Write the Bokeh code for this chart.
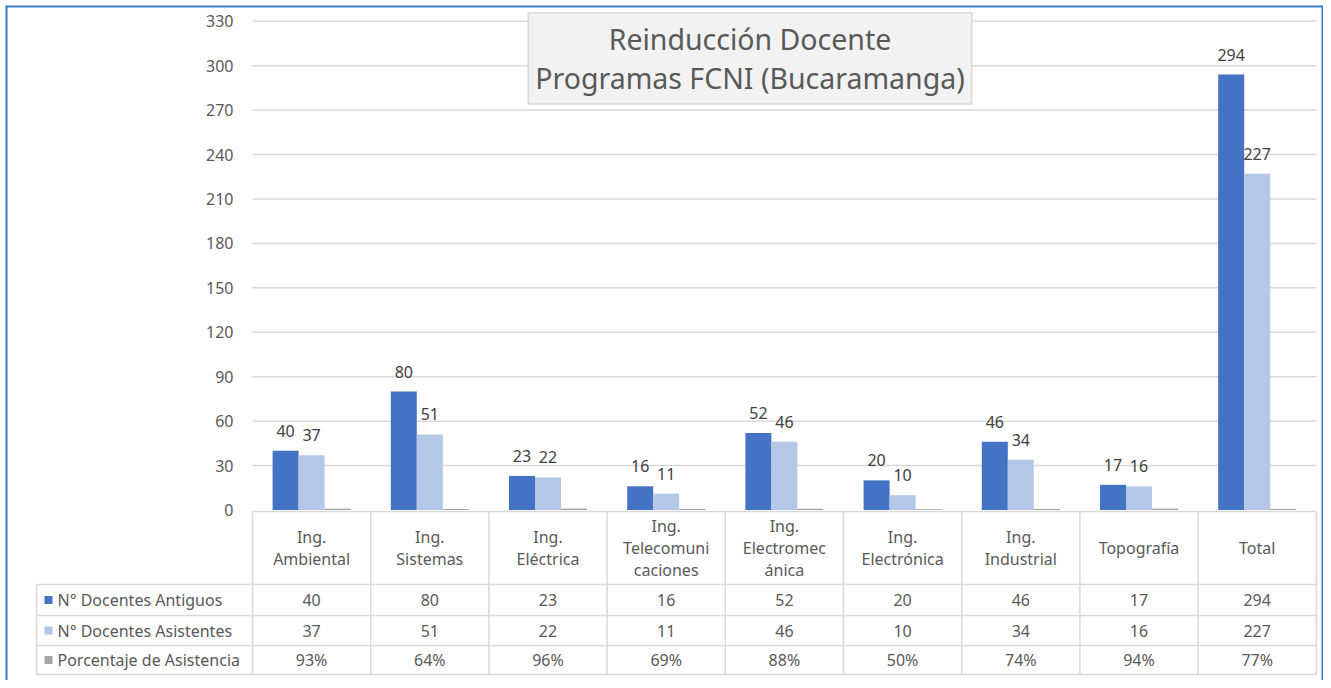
import numpy as np
from bokeh.plotting import figure
from bokeh.models import Range1d, LinearAxis, FixedTicker, Label
from bokeh.core.properties import value
from bokeh.embed import file_html
from bokeh.resources import INLINE

# ---------------- data ----------------
categories = ["Ing.\nAmbiental", "Ing.\nSistemas", "Ing.\nEléctrica",
              "Ing.\nTelecomuni\ncaciones", "Ing.\nElectromec\nánica",
              "Ing.\nElectrónica", "Ing.\nIndustrial", "Topografía", "Total"]
antiguos = [40, 80, 23, 16, 52, 20, 46, 17, 294]
asistentes = [37, 51, 22, 11, 46, 10, 34, 16, 227]
porcentaje = [0.93, 0.64, 0.96, 0.69, 0.88, 0.50, 0.74, 0.94, 0.77]
porcentaje_labels = ["93%", "64%", "96%", "69%", "88%", "50%", "74%", "94%", "77%"]
series_names = ["N° Docentes Antiguos", "N° Docentes Asistentes", "Porcentaje de Asistencia"]
series_colors = ["#4472C4", "#B4C7E7", "#A5A5A5"]
y_ticks = list(range(0, 331, 30))
title_lines = ["Reinducción Docente", "Programas FCNI (Bucaramanga)"]

# ---------------- layout (pixel geometry -> data) ----------------
W, H = 1323, 680
FL, FT = 5, 5                 # frame left / top offsets
X0, COLW = 252.0, 118.2       # left of first category column, column width
Y0, PXU = 509.5, 1.4812       # baseline y and pixels per unit

def dx(ix):
    return (ix - X0) / COLW

def dy(iy):
    return (Y0 - iy) / PXU

FONT = "Noto Sans"
TXT = "#595959"
LINE = "#D9D9D9"
FS = "16px"

p = figure(width=W, height=H, output_backend="svg", toolbar_location=None,
           x_range=Range1d(dx(FL), dx(W)), y_range=Range1d(dy(H), dy(FT)),
           x_axis_type=None, y_axis_type=None,
           min_border_left=FL, min_border_top=FT, min_border_right=0, min_border_bottom=0)
p.outline_line_color = None
p.background_fill_color = "white"
p.border_fill_color = "white"

n = len(categories)
centers = np.arange(n) + 0.5
bw = 26.0 / COLW

# outer blue border (left, top, right) at the frame edges
BC = "#3C7DC8"
p.segment(x0=[dx(FL), dx(FL), dx(W)], x1=[dx(FL), dx(W), dx(W)],
          y0=[dy(H), dy(FT), dy(FT)], y1=[dy(FT), dy(FT), dy(H)],
          line_color=BC, line_width=4)

# y axis inside the frame at x=0
yaxis = LinearAxis(fixed_location=0, ticker=FixedTicker(ticks=y_ticks),
                   axis_line_color=None, major_tick_line_color=None,
                   minor_tick_line_color=None, major_tick_out=0, major_tick_in=0,
                   major_label_standoff=19, major_label_text_font=FONT,
                   major_label_text_font_size=FS, major_label_text_color=TXT)
p.add_layout(yaxis, "left")

# gridlines
gt = [t for t in y_ticks if t > 0]
p.segment(x0=[0] * len(gt), x1=[n] * len(gt), y0=gt, y1=gt,
          line_color=LINE, line_width=1.5)

# bars
series = [antiguos, asistentes, porcentaje]
for k, (vals, col) in enumerate(zip(series, series_colors)):
    p.vbar(x=centers + (k - 1) * bw, top=vals, bottom=0, width=bw,
           fill_color=col, line_color=None)

# data labels
for k, vals in enumerate([antiguos, asistentes]):
    p.text(x=centers + (k - 1) * bw, y=vals, text=[str(v) for v in vals],
           text_align="center", text_baseline="middle", y_offset=-20,
           text_font=value(FONT), text_font_size=FS, text_color="#404040")

# ---------------- data table ----------------
t_top, t_head, r1, r2, t_bot = dy(511), dy(584), dy(615), dy(645), dy(674)
leg_left = dx(36)
hy = [t_top, t_head, r1, r2, t_bot]
hx0 = [0, leg_left, leg_left, leg_left, leg_left]
p.segment(x0=hx0, x1=[n] * 5, y0=hy, y1=hy, line_color=LINE, line_width=1.5)
vx = list(range(n + 1)) + [leg_left]
vy0 = [t_top] * (n + 1) + [t_head]
p.segment(x0=vx, x1=vx, y0=vy0, y1=[t_bot] * (n + 2), line_color=LINE, line_width=1.5)

# header text
p.text(x=centers, y=[dy(547.5)] * n, text=categories, text_align="center",
       text_baseline="middle", text_font=value(FONT), text_font_size=FS,
       text_color=TXT, text_line_height=1.0)

row_y = [dy(599.5), dy(630), dy(659.5)]
row_text = [[str(v) for v in antiguos], [str(v) for v in asistentes], porcentaje_labels]
for ry, rt in zip(row_y, row_text):
    p.text(x=centers, y=[ry] * n, text=rt, text_align="center", text_baseline="middle",
           text_font=value(FONT), text_font_size=FS, text_color=TXT)

# legend column
p.scatter(x=[dx(48)] * 3, y=row_y, marker="square", size=8,
          fill_color=series_colors, line_color=None)
p.text(x=[dx(57)] * 3, y=row_y, text=series_names, text_align="left",
       text_baseline="middle", text_font=value(FONT), text_font_size=FS,
       text_color=TXT)

# title box
title = Label(x=dx(749.5), y=dy(58), text="\n".join(title_lines),
              text_align="center", text_baseline="middle", text_font=FONT,
              text_font_size="28.5px", text_color=TXT, text_line_height=1.03,
              background_fill_color="#F2F2F2", border_line_color=LINE,
              border_line_width=1.5, padding=7)
p.add_layout(title)

open("out.html", "w").write(file_html(p, INLINE))
